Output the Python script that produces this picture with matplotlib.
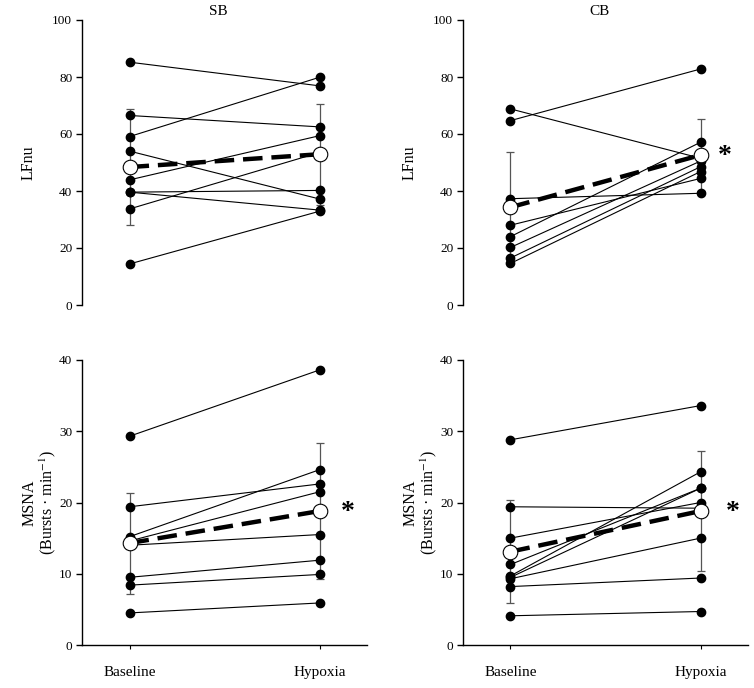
import matplotlib
matplotlib.use("Agg")
import matplotlib.pyplot as plt
import matplotlib.transforms as mtransforms

plt.rcParams['font.family'] = ['Liberation Serif', 'DejaVu Serif']
plt.rcParams['mathtext.fontset'] = 'stix'

conditions = ["Baseline", "Hypoxia"]
groups = ["SB", "CB"]

# LFnu individual subjects (baseline, hypoxia)
sb_lf_base = [85.2, 66.5, 59.1, 54.0, 43.9, 39.6, 39.6, 33.7, 14.4]
sb_lf_hyp = [76.9, 62.5, 79.9, 37.2, 59.4, 40.2, 33.3, 53.5, 32.9]
cb_lf_base = [68.8, 64.7, 37.3, 28.0, 24.0, 20.2, 16.5, 14.6]
cb_lf_hyp = [51.5, 82.8, 39.2, 44.4, 57.1, 50.5, 48.5, 46.8]

# MSNA individual subjects
sb_msna_base = [29.3, 19.4, 15.2, 14.6, 14.0, 9.5, 8.4, 4.5]
sb_msna_hyp = [38.6, 22.6, 24.6, 21.5, 15.5, 11.9, 9.9, 5.9]
cb_msna_base = [28.8, 19.4, 15.0, 11.3, 9.7, 9.5, 9.3, 8.2, 4.1]
cb_msna_hyp = [33.6, 19.2, 20.0, 22.0, 24.3, 22.0, 15.0, 9.4, 4.7]

# group means and SD
sb_lf_mean = [48.4, 52.9]
sb_lf_sd = [20.5, 17.7]
cb_lf_mean = [34.3, 52.6]
cb_lf_sd = [19.5, 12.5]
sb_msna_mean = [14.3, 18.8]
sb_msna_sd = [7.1, 9.5]
cb_msna_mean = [13.1, 18.8]
cb_msna_sd = [7.2, 8.4]

lf_ticks = [0, 20, 40, 60, 80, 100]
msna_ticks = [0, 10, 20, 30, 40]

W, H = 754, 688
fig = plt.figure(figsize=(W / 100, H / 100), dpi=100)

def px_axes(left, bottom_px, width, height):
    return fig.add_axes([left / W, (H - bottom_px) / H, width / W, height / H])

ax_tl = px_axes(82, 305, 285, 285)
ax_tr = px_axes(463, 305, 285, 285)
ax_bl = px_axes(82, 645, 285, 285)
ax_br = px_axes(463, 645, 285, 285)

xpos = [0, 1]

def draw(ax, base, hyp, mean, sd, ylim, ticks, bottom_axis, star=None):
    ax.errorbar(xpos, mean, yerr=sd, fmt='none', ecolor='#555555',
                elinewidth=0.9, capsize=3, capthick=0.9, zorder=1)
    for b, h in zip(base, hyp):
        ax.plot(xpos, [b, h], color='black', lw=0.8, zorder=2)
        ax.plot(xpos, [b, h], 'o', color='black', ms=6, zorder=3, linestyle='none')
    ax.plot(xpos, mean, color='black', lw=3.2, dashes=(4.4, 2.0),
            solid_capstyle='butt', dash_capstyle='butt', zorder=4)
    ax.plot(xpos, mean, 'o', mfc='white', mec='black', mew=0.8, ms=10.5, zorder=5,
            linestyle='none')
    ax.set_xlim(-0.25, 1.25)
    ax.set_ylim(*ylim)
    ax.set_yticks(ticks)
    ax.spines['top'].set_visible(False)
    ax.spines['right'].set_visible(False)
    ax.spines['left'].set_linewidth(1.0)
    ax.tick_params(axis='y', direction='out', length=4, width=1.0, labelsize=9.5, pad=3)
    if bottom_axis:
        ax.spines['bottom'].set_linewidth(1.0)
        ax.set_xticks(xpos)
        ax.set_xticklabels(conditions, fontsize=11)
        ax.tick_params(axis='x', direction='out', length=3, width=0.8, pad=12)
    else:
        ax.spines['bottom'].set_visible(False)
        ax.set_xticks([])
    if star is not None:
        ax.text(star[0], star[1], '*', fontsize=20, ha='center', va='center',
                fontweight='bold')

draw(ax_tl, sb_lf_base, sb_lf_hyp, sb_lf_mean, sb_lf_sd, (0, 100), lf_ticks, False)
draw(ax_tr, cb_lf_base, cb_lf_hyp, cb_lf_mean, cb_lf_sd, (0, 100), lf_ticks, False,
     star=(1.13, 52.2))
draw(ax_bl, sb_msna_base, sb_msna_hyp, sb_msna_mean, sb_msna_sd, (0, 40), msna_ticks, True,
     star=(1.15, 18.6))
draw(ax_br, cb_msna_base, cb_msna_hyp, cb_msna_mean, cb_msna_sd, (0, 40), msna_ticks, True,
     star=(1.17, 18.6))

for ax, g in zip([ax_tl, ax_tr], groups):
    trans = mtransforms.blended_transform_factory(ax.transData, ax.transAxes)
    ax.text(0.47, 1.03, g, transform=trans, ha='center', va='center', fontsize=11)

for ax in [ax_tl, ax_tr]:
    ax.set_ylabel('LFnu', fontsize=11.5)
    ax.yaxis.set_label_coords(-0.158, 0.5)
for ax in [ax_bl, ax_br]:
    ax.set_ylabel('MSNA\n(Bursts · min$^{-1}$)', fontsize=11.5,
                  multialignment='center', linespacing=0.95)
    ax.yaxis.set_label_coords(-0.085, 0.5)

fig.savefig('out.png', dpi=100)
